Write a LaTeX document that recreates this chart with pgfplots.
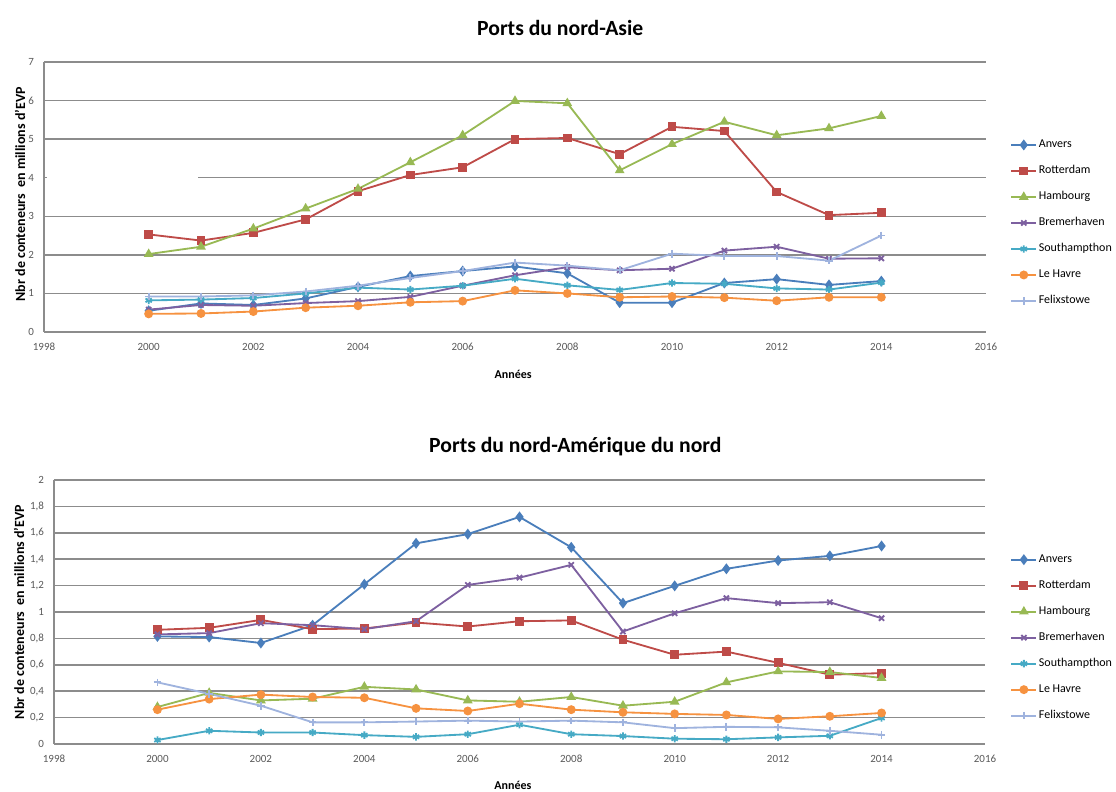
\documentclass[border=0pt]{standalone}
\usepackage{pgfplots}
\pgfplotsset{compat=1.18}
\usepackage{fontspec}
\setmainfont{Carlito}

\definecolor{anv}{HTML}{4A7EBB}
\definecolor{rot}{HTML}{BE4B48}
\definecolor{ham}{HTML}{98B954}
\definecolor{bre}{HTML}{7D60A0}
\definecolor{sou}{HTML}{46AAC5}
\definecolor{lhv}{HTML}{F69240}
\definecolor{fel}{HTML}{9FB3DE}
\definecolor{gridc}{HTML}{8C8C8C}
\definecolor{tickc}{HTML}{595959}

% one pixel of the reference = 0.6pt
\pgfplotsset{
  ports/.style={
    scale only axis,
    axis x line*=bottom, axis y line*=left,
    axis line style={gridc, line width=0.9pt},
    ymajorgrids, grid style={gridc, line width=0.9pt},
    major tick length=0pt,
    xmin=1998, xmax=2016, xtick={1998,2000,...,2016},
    tick label style={font=\fontsize{6.6}{7}\selectfont, text=tickc},
    xticklabel style={yshift=-3pt, /pgf/number format/1000 sep={}},
    yticklabel style={xshift=-2.5pt},
    /pgf/number format/assume math mode=true,
    xlabel style={font=\bfseries\fontsize{7.2}{8}\selectfont},
    ylabel style={font=\bfseries\fontsize{8.4}{9}\selectfont},
    title style={font=\bfseries\fontsize{13}{14}\selectfont},
    legend cell align=left,
    legend style={draw=none, fill=none, font=\fontsize{7.2}{8}\selectfont,
      row sep=9.1pt, inner sep=0pt,
      nodes={inner xsep=1pt, inner ysep=0pt, text height=5pt, text depth=1.5pt}},
    legend image code/.code={\draw[mark repeat=2, mark phase=2, ##1]
      plot coordinates {(0pt,0pt)(7.5pt,0pt)(15pt,0pt)};},
    every axis plot/.append style={line width=1.1pt},
  },
  panv/.style={anv, mark=diamond*, mark size=2.4pt, mark options={fill=anv}},
  prot/.style={rot, mark=square*, mark size=2.1pt, mark options={fill=rot}},
  pham/.style={ham, mark=triangle*, mark size=2.3pt, mark options={fill=ham}},
  pbre/.style={bre, mark=x, mark size=2.2pt},
  psou/.style={sou, mark=asterisk, mark size=2.2pt},
  plhv/.style={lhv, mark=*, mark size=2.1pt, mark options={fill=lhv}},
  pfel/.style={fel, mark=+, mark size=2.3pt},
}

\begin{document}
\begin{tikzpicture}
\path[use as bounding box] (0,0) rectangle (669.6pt,475.2pt);

% ---------- Ports du nord-Asie ----------
\begin{axis}[ports,
  at={(26.4pt,276pt)}, anchor=south west,
  width=565.2pt, height=162pt,
  ymin=0, ymax=7, ytick={0,1,...,7},
  title={Ports du nord-Asie},
  title style={at={(rel axis cs:0.548,1.125)}, anchor=center, yshift=-6pt},
  xlabel={Années},
  xlabel style={at={(rel axis cs:0.498,-0.156)}, anchor=center},
  ylabel={Nbr de conteneurs \ en millions d'EVP},
  ylabel style={at={(rel axis cs:-0.0255,0.51)}, anchor=center},
  legend style={at={(rel axis cs:1.0255,0.714)}, anchor=north west},
]
\fill[white] (axis cs:1998.05,3.93) rectangle (axis cs:2000.95,4.07);
\addplot[panv] coordinates {
  (2000,0.55)(2001,0.74)(2002,0.70)(2003,0.87)(2004,1.17)(2005,1.45)(2006,1.58)
  (2007,1.70)(2008,1.52)(2009,0.76)(2010,0.76)(2011,1.27)(2012,1.37)(2013,1.22)(2014,1.32)};
\addlegendentry{Anvers}
\addplot[prot] coordinates {
  (2000,2.53)(2001,2.37)(2002,2.57)(2003,2.92)(2004,3.65)(2005,4.07)(2006,4.27)
  (2007,5.00)(2008,5.03)(2009,4.61)(2010,5.32)(2011,5.21)(2012,3.63)(2013,3.03)(2014,3.09)};
\addlegendentry{Rotterdam}
\addplot[pham] coordinates {
  (2000,2.02)(2001,2.21)(2002,2.68)(2003,3.20)(2004,3.71)(2005,4.40)(2006,5.10)
  (2007,5.99)(2008,5.93)(2009,4.19)(2010,4.87)(2011,5.45)(2012,5.10)(2013,5.28)(2014,5.60)};
\addlegendentry{Hambourg}
\addplot[pbre] coordinates {
  (2000,0.58)(2001,0.70)(2002,0.68)(2003,0.75)(2004,0.80)(2005,0.91)(2006,1.20)
  (2007,1.47)(2008,1.68)(2009,1.60)(2010,1.64)(2011,2.11)(2012,2.21)(2013,1.90)(2014,1.91)};
\addlegendentry{Bremerhaven}
\addplot[psou] coordinates {
  (2000,0.82)(2001,0.84)(2002,0.88)(2003,1.00)(2004,1.15)(2005,1.10)(2006,1.20)
  (2007,1.38)(2008,1.21)(2009,1.09)(2010,1.27)(2011,1.25)(2012,1.13)(2013,1.10)(2014,1.28)};
\addlegendentry{Southampthon}
\addplot[plhv] coordinates {
  (2000,0.47)(2001,0.48)(2002,0.53)(2003,0.63)(2004,0.68)(2005,0.77)(2006,0.80)
  (2007,1.08)(2008,1.00)(2009,0.90)(2010,0.92)(2011,0.89)(2012,0.81)(2013,0.90)(2014,0.90)};
\addlegendentry{Le Havre}
\addplot[pfel] coordinates {
  (2000,0.92)(2001,0.92)(2002,0.95)(2003,1.05)(2004,1.20)(2005,1.40)(2006,1.58)
  (2007,1.80)(2008,1.72)(2009,1.60)(2010,2.03)(2011,1.97)(2012,1.97)(2013,1.85)(2014,2.50)};
\addlegendentry{Felixstowe}
\end{axis}

% ---------- Ports du nord-Amérique du nord ----------
\begin{axis}[ports,
  at={(32.4pt,28.8pt)}, anchor=south west,
  width=558.6pt, height=158.4pt,
  ymin=0, ymax=2, ytick={0,0.2,...,2.01},
  yticklabel style={/pgf/number format/.cd, use comma, fixed},
  title={Ports du nord-Amérique du nord},
  title style={at={(rel axis cs:0.56,1.125)}, anchor=center, yshift=-6pt},
  xlabel={Années},
  xlabel style={at={(rel axis cs:0.493,-0.155)}, anchor=center},
  ylabel={Nbr de conteneurs \ en millions d'EVP},
  ylabel style={at={(rel axis cs:-0.0376,0.5)}, anchor=center},
  legend style={at={(rel axis cs:1.027,0.72)}, anchor=north west},
]
\addplot[panv] coordinates {
  (2000,0.815)(2001,0.81)(2002,0.765)(2003,0.90)(2004,1.21)(2005,1.52)(2006,1.59)
  (2007,1.72)(2008,1.49)(2009,1.067)(2010,1.198)(2011,1.327)(2012,1.39)(2013,1.425)(2014,1.50)};
\addlegendentry{Anvers}
\addplot[prot] coordinates {
  (2000,0.865)(2001,0.88)(2002,0.94)(2003,0.87)(2004,0.875)(2005,0.92)(2006,0.89)
  (2007,0.93)(2008,0.936)(2009,0.79)(2010,0.676)(2011,0.70)(2012,0.615)(2013,0.525)(2014,0.537)};
\addlegendentry{Rotterdam}
\addplot[pham] coordinates {
  (2000,0.28)(2001,0.387)(2002,0.33)(2003,0.343)(2004,0.433)(2005,0.413)(2006,0.33)
  (2007,0.32)(2008,0.356)(2009,0.29)(2010,0.32)(2011,0.467)(2012,0.55)(2013,0.545)(2014,0.50)};
\addlegendentry{Hambourg}
\addplot[pbre] coordinates {
  (2000,0.83)(2001,0.84)(2002,0.915)(2003,0.90)(2004,0.87)(2005,0.93)(2006,1.205)
  (2007,1.26)(2008,1.357)(2009,0.852)(2010,0.99)(2011,1.105)(2012,1.067)(2013,1.074)(2014,0.953)};
\addlegendentry{Bremerhaven}
\addplot[psou] coordinates {
  (2000,0.03)(2001,0.10)(2002,0.087)(2003,0.087)(2004,0.067)(2005,0.054)(2006,0.074)
  (2007,0.146)(2008,0.074)(2009,0.06)(2010,0.04)(2011,0.036)(2012,0.05)(2013,0.062)(2014,0.197)};
\addlegendentry{Southampthon}
\addplot[plhv] coordinates {
  (2000,0.26)(2001,0.34)(2002,0.374)(2003,0.356)(2004,0.35)(2005,0.27)(2006,0.25)
  (2007,0.305)(2008,0.26)(2009,0.24)(2010,0.228)(2011,0.22)(2012,0.19)(2013,0.21)(2014,0.235)};
\addlegendentry{Le Havre}
\addplot[pfel] coordinates {
  (2000,0.467)(2001,0.38)(2002,0.29)(2003,0.164)(2004,0.164)(2005,0.17)(2006,0.177)
  (2007,0.17)(2008,0.177)(2009,0.164)(2010,0.12)(2011,0.13)(2012,0.126)(2013,0.10)(2014,0.07)};
\addlegendentry{Felixstowe}
\end{axis}
\end{tikzpicture}
\end{document}
